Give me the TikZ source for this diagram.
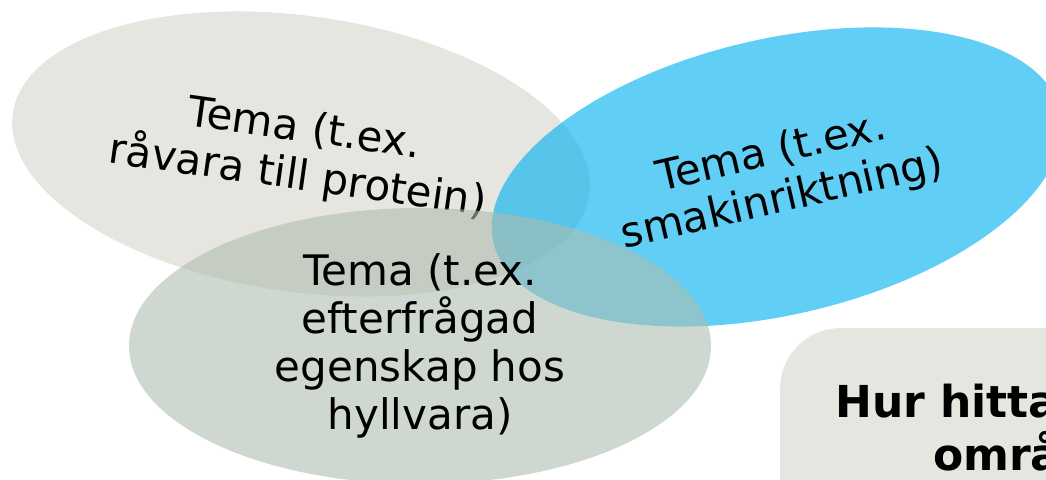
\documentclass[tikz,border=0pt]{standalone}
\usepackage{fontspec}
\setmainfont{DejaVu Sans}
\usetikzlibrary{shapes.geometric}
\definecolor{beige}{RGB}{231,229,223}
\definecolor{ljusbla}{RGB}{0,176,240}
\definecolor{gragron}{RGB}{174,189,175}
\begin{document}
\begin{tikzpicture}[x=1pt, y=1pt,
    tema/.style = {ellipse, minimum width=582pt, minimum height=276pt, inner sep=0pt, align=center, text opacity=1, font=\fontsize{42}{48}\selectfont},
    rubrik/.style = {anchor=base west, inner sep=0pt, font=\fontsize{44}{50}\selectfont\bfseries}]
  \useasboundingbox (0,0) rectangle (1046,479);
  \clip (0,0) rectangle (1046,479);
  \node[tema, fill=beige, rotate=-8] (ravara) at (301,325) {Tema (t.ex.\\råvara till protein)};
  \node[tema, fill=ljusbla, fill opacity=0.62, rotate=13] (smak) at (777,302) {Tema (t.ex.\\smakinriktning)};
  \node[tema, fill=gragron, fill opacity=0.59] (hylla) at (420,133) {Tema (t.ex.\\efterfrågad\\egenskap hos\\hyllvara)};
  % ruta nere till höger, skuren av kanten
  \node[fill=beige, rounded corners=60pt, anchor=north west, minimum width=340pt, minimum height=220pt] (hur) at (780,151) {};
  \node[rubrik] (hur1) at (835,61) {Hur hitta};
  \node[rubrik] (hur2) at (933,9) {områ};
\end{tikzpicture}
\end{document}
